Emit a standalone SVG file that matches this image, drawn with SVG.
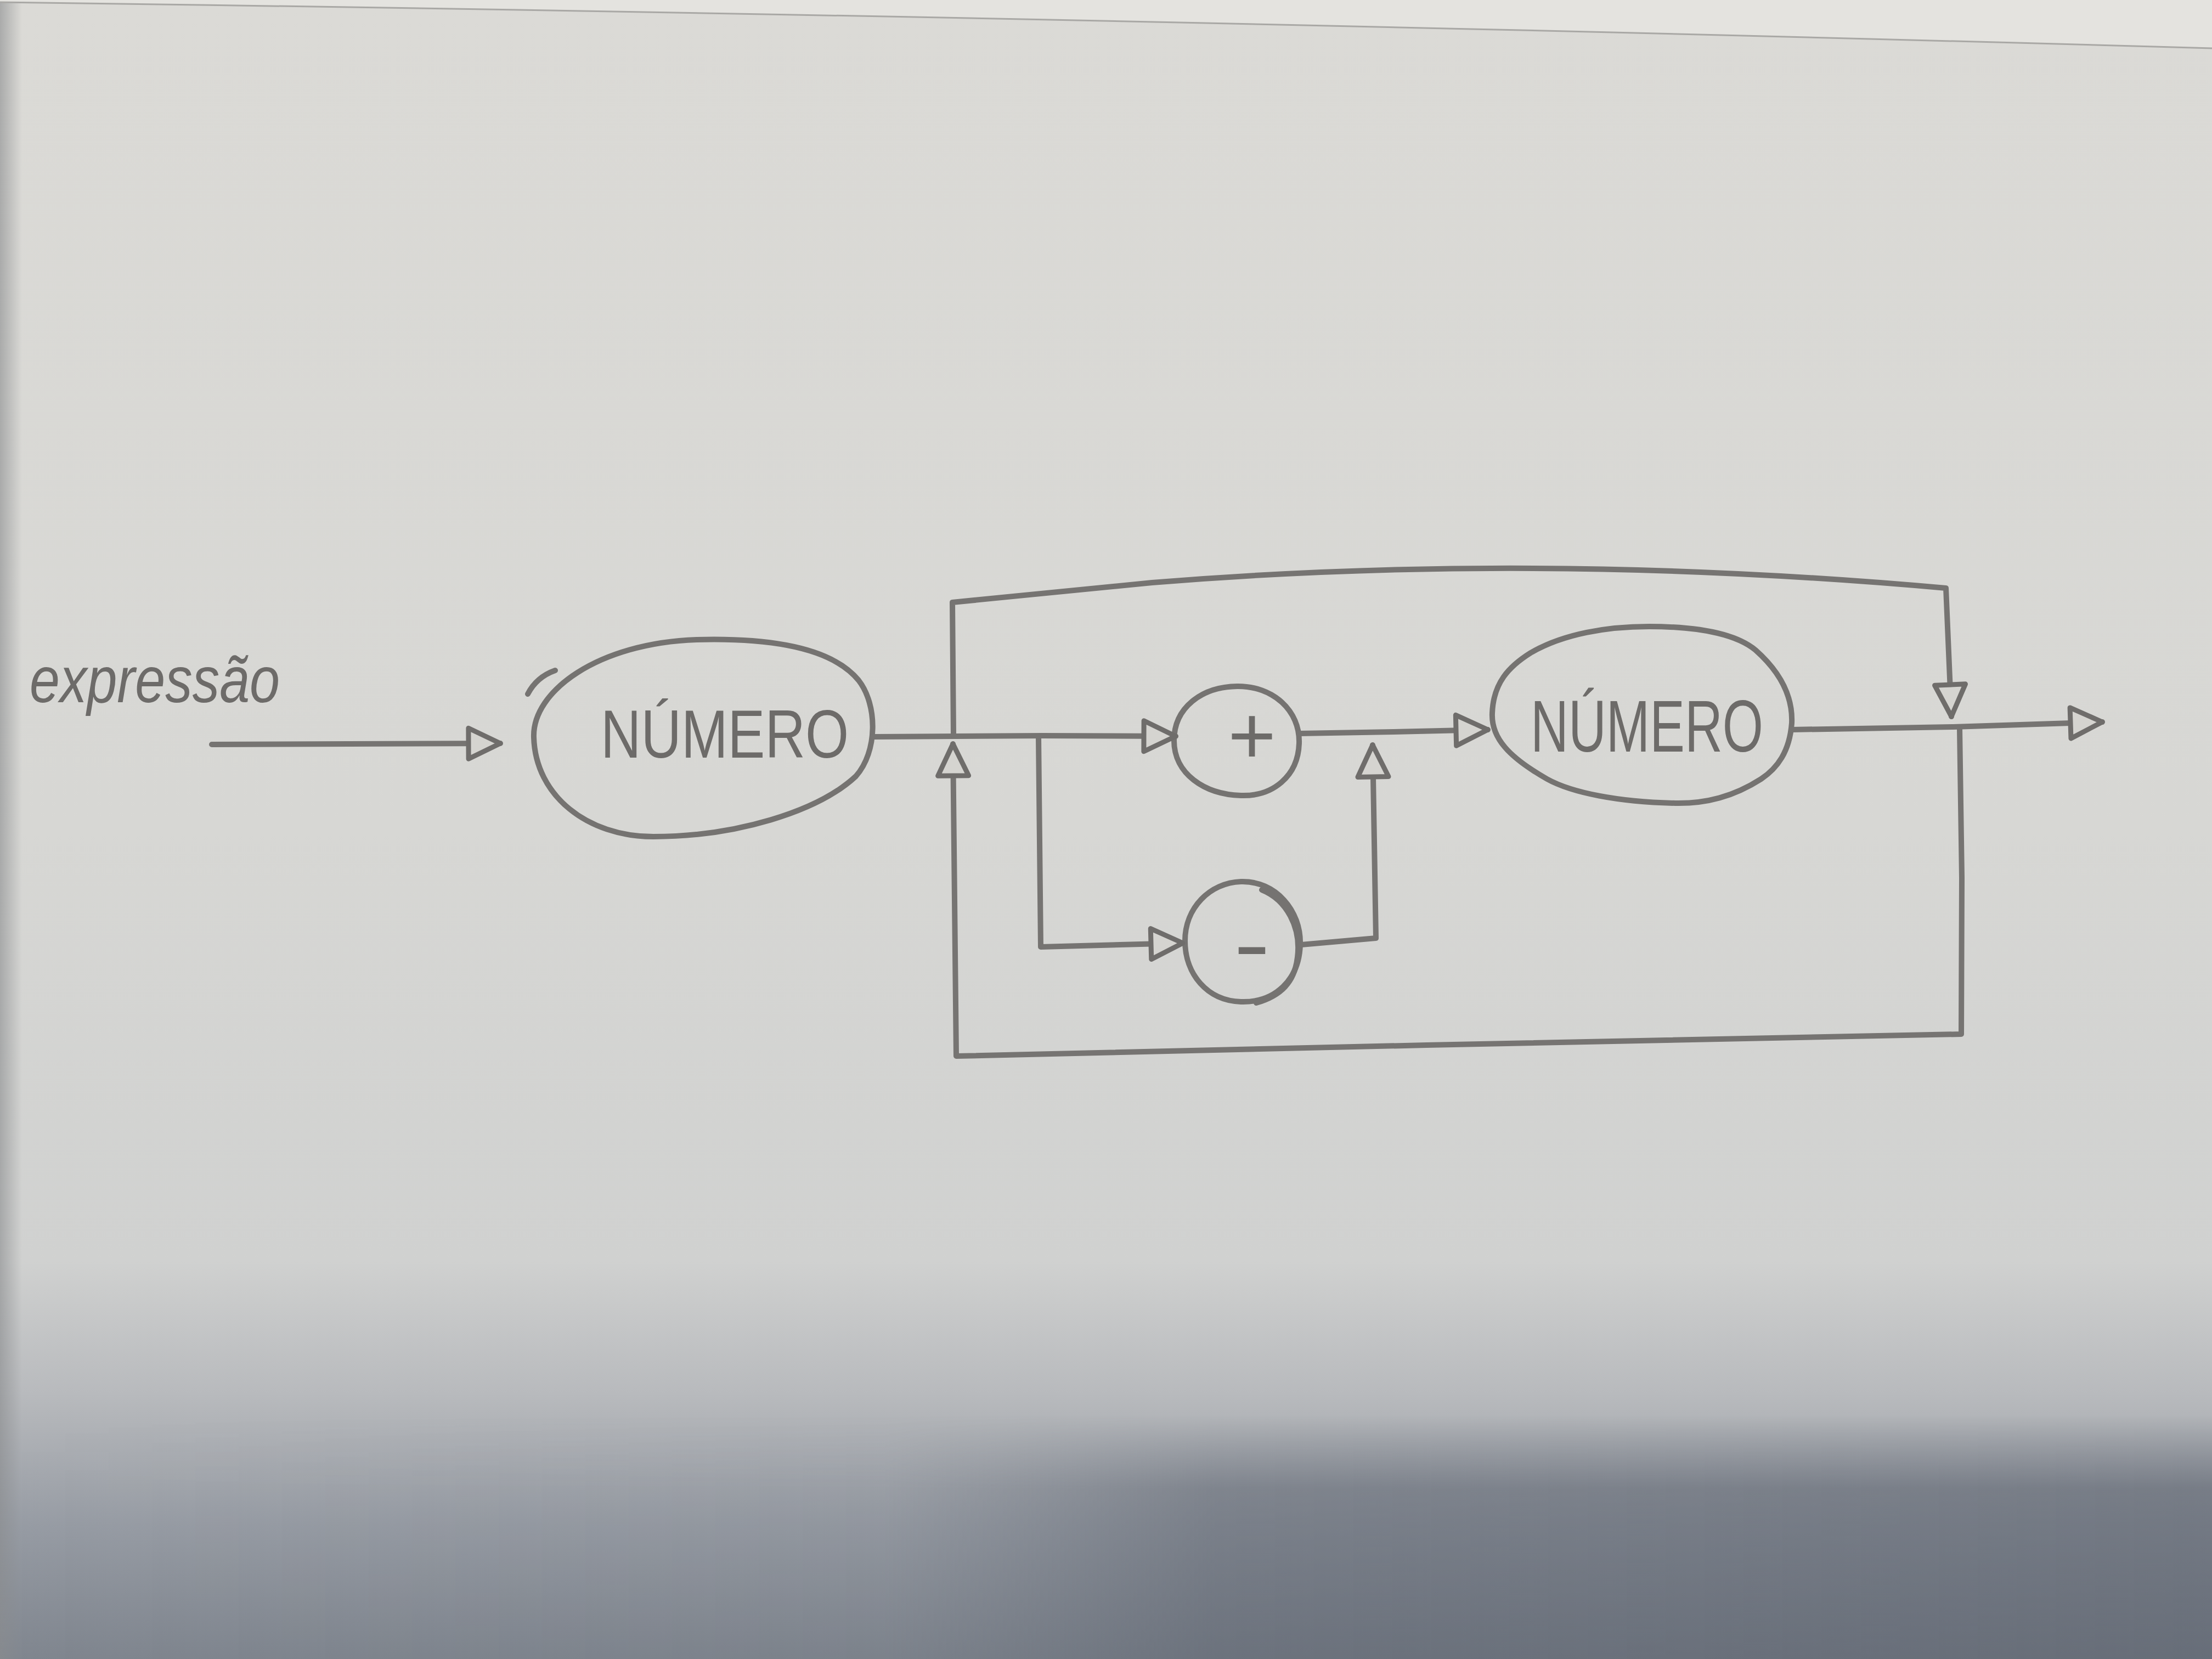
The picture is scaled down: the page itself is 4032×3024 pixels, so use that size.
<svg xmlns="http://www.w3.org/2000/svg" width="4032" height="3024" viewBox="0 0 4032 3024">
  <defs>
    <linearGradient id="paperV" x1="0" y1="0" x2="0" y2="1">
      <stop offset="0" stop-color="#dbdad6"/>
      <stop offset="0.5" stop-color="#d7d7d4"/>
      <stop offset="0.76" stop-color="#d0d1d0"/>
      <stop offset="0.84" stop-color="#b8babd"/>
      <stop offset="0.92" stop-color="#979ca4"/>
      <stop offset="1" stop-color="#80868f"/>
    </linearGradient>
    <linearGradient id="shadeH" x1="0" y1="0" x2="1" y2="0">
      <stop offset="0" stop-color="#4e5562" stop-opacity="0"/>
      <stop offset="0.4" stop-color="#4e5562" stop-opacity="0.08"/>
      <stop offset="0.55" stop-color="#4e5562" stop-opacity="0.4"/>
      <stop offset="1" stop-color="#4e5562" stop-opacity="0.5"/>
    </linearGradient>
    <linearGradient id="shadeFade" x1="0" y1="0" x2="0" y2="1">
      <stop offset="0" stop-color="#fff" stop-opacity="0"/>
      <stop offset="0.3" stop-color="#fff" stop-opacity="1"/>
      <stop offset="1" stop-color="#fff" stop-opacity="1"/>
    </linearGradient>
    <mask id="shadeMask">
      <rect x="0" y="2580" width="4032" height="444" fill="url(#shadeFade)"/>
    </mask>
    <linearGradient id="leftEdge" x1="0" y1="0" x2="1" y2="0">
      <stop offset="0" stop-color="#8a8c8e" stop-opacity="0.6"/>
      <stop offset="1" stop-color="#8a8c8e" stop-opacity="0"/>
    </linearGradient>
    <marker id="tri" viewBox="-6 -36 72 72" refX="58" refY="0" markerWidth="72" markerHeight="72" markerUnits="userSpaceOnUse" orient="auto">
      <path d="M0,-28 L58,0 L0,28 Z" fill="#d5d4d0" stroke="#6f6d6b" stroke-width="9" stroke-linejoin="round"/>
    </marker>
    <style>
      .node { fill: none; stroke: #757371; stroke-width: 10; stroke-linecap: round; }
      .lbl { font-family: "Liberation Sans", Arial, sans-serif; fill: #6d6b69; }
      .conn { fill: none; stroke: #767472; stroke-width: 10; stroke-linecap: round; stroke-linejoin: round; marker-end: url(#tri); }
    </style>
  </defs>

  <!-- paper -->
  <rect x="0" y="0" width="4032" height="3024" fill="url(#paperV)"/>
  <rect x="0" y="2580" width="4032" height="444" fill="url(#shadeH)" mask="url(#shadeMask)"/>
  <rect x="0" y="0" width="40" height="3024" fill="url(#leftEdge)"/>
  <path d="M0,0 L4032,0 L4032,88 Q2000,30 0,4 Z" fill="#e4e3df"/>
  <path d="M0,4 Q2000,30 4032,88" fill="none" stroke="#a9a8a5" stroke-width="3"/>

  <!-- title -->
  <text id="title" class="lbl" x="54" y="1280" font-size="118" font-style="italic" textLength="456" lengthAdjust="spacingAndGlyphs">expressão</text>

  <!-- nodes -->
  <g id="numero1">
    <path class="node" d="M973,1344 C970,1260 1090,1172 1270,1166 C1420,1162 1520,1185 1565,1240 C1600,1285 1600,1370 1560,1415 C1490,1480 1340,1525 1191,1525 C1070,1525 976,1450 973,1344 Z"/>
    <path class="node" d="M962,1265 C975,1240 995,1228 1012,1222" stroke-width="6"/>
    <text class="lbl" x="1095" y="1381" font-size="124" textLength="452" lengthAdjust="spacingAndGlyphs">NÚMERO</text>
  </g>

  <g id="plus">
    <path class="node" d="M2255,1251 C2320,1250 2370,1295 2368,1355 C2366,1415 2320,1452 2262,1450 C2195,1448 2140,1410 2140,1350 C2140,1290 2190,1252 2255,1251 Z"/>
    <text class="lbl" x="2282" y="1392" font-size="150" text-anchor="middle">+</text>
  </g>

  <g id="minus">
    <path class="node" d="M2262,1607 C2325,1605 2372,1660 2370,1722 C2368,1785 2325,1828 2262,1826 C2200,1824 2160,1775 2160,1715 C2160,1655 2205,1609 2262,1607 Z"/>
    <path class="node" d="M2300,1622 C2345,1640 2372,1690 2365,1745 C2360,1790 2335,1815 2290,1828" stroke-width="6"/>
    <text class="lbl" x="2282" y="1775" font-size="160" text-anchor="middle" textLength="66" lengthAdjust="spacingAndGlyphs">-</text>
  </g>

  <g id="numero2">
    <path class="node" d="M3006,1142 C3110,1142 3170,1160 3200,1185 C3245,1225 3268,1270 3266,1318 C3262,1370 3240,1400 3210,1420 C3160,1452 3110,1465 3054,1464 C2950,1462 2865,1445 2820,1420 C2750,1380 2718,1345 2720,1300 C2722,1245 2750,1215 2790,1190 C2850,1155 2930,1142 3006,1142 Z"/>
    <text class="lbl" x="2790" y="1370" font-size="134" textLength="424" lengthAdjust="spacingAndGlyphs">NÚMERO</text>
  </g>

  <!-- connectors -->
  <g id="connectors">
    <path class="conn" d="M386,1357 L912,1355"/>
    <path class="conn" d="M1592,1343 L1900,1341 L2143,1342"/>
    <path class="conn" d="M2368,1337 L2540,1334 L2712,1330"/>
    <path class="conn" d="M1893,1343 L1897,1726 L2156,1719"/>
    <path class="conn" d="M2372,1722 L2508,1710 L2502,1358"/>
    <path class="conn" d="M3266,1330 L3560,1325 L3832,1316"/>
    <path class="conn" d="M1738,1340 L1736,1098 L2100,1062 Q2800,1005 3547,1072 L3557,1306"/>
    <path class="conn" d="M3572,1328 L3576,1600 L3575,1885 L2600,1905 L1743,1925 L1737,1356"/>
  </g>
</svg>
